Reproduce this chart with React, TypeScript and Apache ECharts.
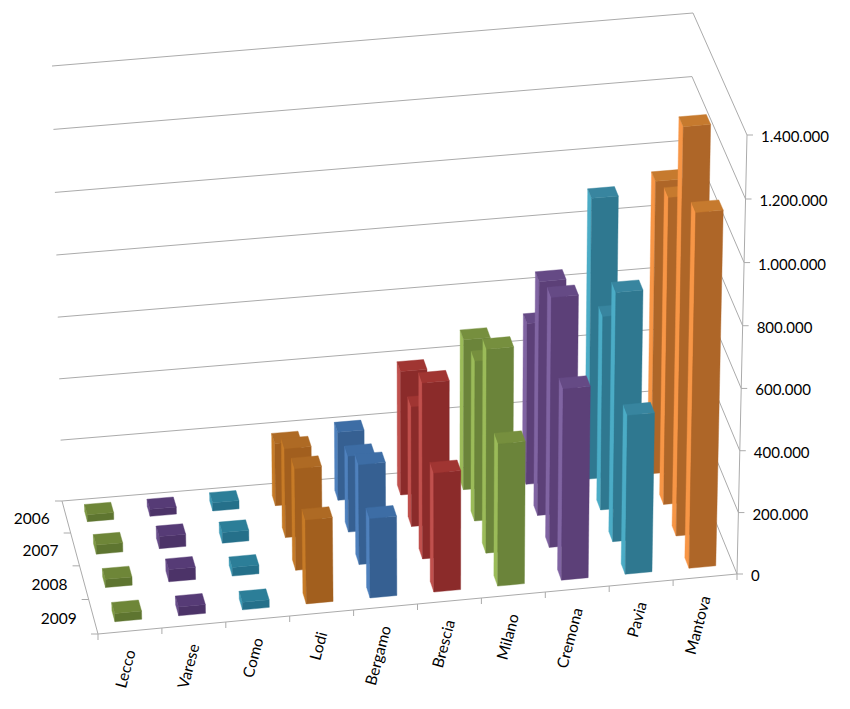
import React, { useEffect, useRef } from "react";
import * as echarts from "echarts";

const categories = ["Lecco", "Varese", "Como", "Lodi", "Bergamo", "Brescia", "Milano", "Cremona", "Pavia", "Mantova"];
const years = ["2006", "2007", "2008", "2009"];
const valueTicks = [0, 200000, 400000, 600000, 800000, 1000000, 1200000, 1400000];
const valueTickLabels = ["0", "200.000", "400.000", "600.000", "800.000", "1.000.000", "1.200.000", "1.400.000"];

const values2006 = [23000, 23000, 27000, 204000, 223000, 403000, 489000, 524000, 908000, 945000];
const values2007 = [30000, 40000, 35000, 290000, 248000, 390000, 520000, 757000, 628000, 990000];
const values2008 = [27000, 40000, 28000, 331000, 325000, 570000, 660000, 807000, 805000, 1310000];
const values2009 = [27000, 29000, 25000, 273000, 258000, 386000, 461000, 619000, 515000, 1140000];
const seriesByYear = [values2006, values2007, values2008, values2009];

const frontColors = ["#5E7530", "#4C3368", "#25708A", "#A25F1E", "#366092", "#8B2B2A", "#6B843A", "#5C4078", "#2F7890", "#AE6628"];
const sideColors = ["#7F9A44", "#6A4F8C", "#3E9AB5", "#C77B27", "#4F81BD", "#C0504D", "#9BBB59", "#8064A2", "#4BACC6", "#F79646"];
const topColors = ["#6E8638", "#563B76", "#2C7E98", "#AE6A24", "#3D6DA5", "#A03532", "#768F3E", "#654A85", "#38859F", "#C67A2E"];

const MAX_VALUE = 1400000;
const GRID_COLOR = "#ABABAB";
const FONT = "Lato";

type P = [number, number];
const BACK_LEFT_BOTTOM: P = [62, 501];
const BACK_RIGHT_BOTTOM: P = [686, 449];
const FRONT_LEFT_BOTTOM: P = [98, 634];
const FRONT_RIGHT_BOTTOM: P = [737, 574];
const BACK_LEFT_TOP: P = [52, 66];
const BACK_RIGHT_TOP: P = [693, 13];
const FRONT_LEFT_TOP: P = [86, 194];
const FRONT_RIGHT_TOP: P = [747, 135];

const lerp = (a: P, b: P, t: number): P => [a[0] + (b[0] - a[0]) * t, a[1] + (b[1] - a[1]) * t];

function project(u: number, v: number, w: number): P {
  const vv = v - 0.05 * v * (1 - v);
  const ww = w - 0.024 * w * (1 - w);
  const bottom = lerp(lerp(BACK_LEFT_BOTTOM, BACK_RIGHT_BOTTOM, u), lerp(FRONT_LEFT_BOTTOM, FRONT_RIGHT_BOTTOM, u), vv);
  const top = lerp(lerp(BACK_LEFT_TOP, BACK_RIGHT_TOP, u), lerp(FRONT_LEFT_TOP, FRONT_RIGHT_TOP, u), vv);
  return lerp(bottom, top, ww);
}

const BAR_WIDTH = 0.42;
const BAR_DEPTH = 0.32;
const BAR_SHIFT = 0.02;
const ROW_SHIFT = 0.04;

// back rows first, right-most first inside a row: the viewer stands front-left
const barData: number[][] = [];
years.forEach((_, row) => {
  for (let c = categories.length - 1; c >= 0; c--) {
    barData.push([c, seriesByYear[row][c], row]);
  }
});

function renderBar(params: any, api: any) {
  const cat = api.value(0);
  const row = api.value(2);
  const rect = params.coordSys;
  const base = api.coord([cat, 0]);
  const head = api.coord([cat, api.value(1)]);
  const uc = (base[0] - rect.x) / rect.width + BAR_SHIFT / categories.length;
  const w = (rect.y + rect.height - head[1]) / rect.height;
  const du = (BAR_WIDTH / 2) / categories.length;
  const v0 = (row + 0.5 + ROW_SHIFT - BAR_DEPTH / 2) / years.length;
  const v1 = (row + 0.5 + ROW_SHIFT + BAR_DEPTH / 2) / years.length;
  const u0 = uc - du;
  const u1 = uc + du;
  const poly = (points: P[], fill: string) => ({
    type: "polygon",
    silent: true,
    shape: { points },
    style: { fill, stroke: fill, lineWidth: 0.4 },
  });
  return {
    type: "group",
    children: [
      poly([project(u0, v0, 0), project(u0, v1, 0), project(u0, v1, w), project(u0, v0, w)], sideColors[cat]),
      poly([project(u0, v1, 0), project(u1, v1, 0), project(u1, v1, w), project(u0, v1, w)], frontColors[cat]),
      poly([project(u0, v0, w), project(u1, v0, w), project(u1, v1, w), project(u0, v1, w)], topColors[cat]),
    ],
  };
}

function renderFrame(params: any, api: any) {
  const rect = params.coordSys;
  const children: any[] = [];
  const line = (a: P, b: P) => ({
    type: "line",
    silent: true,
    shape: { x1: a[0], y1: a[1], x2: b[0], y2: b[1] },
    style: { stroke: GRID_COLOR, lineWidth: 1 },
  });
  const text = (t: string, x: number, y: number, align: string, size: number, rotation = 0) => ({
    type: "text",
    silent: true,
    x,
    y,
    rotation,
    style: { text: t, fill: "#000", font: `${size}px ${FONT}`, align, verticalAlign: "middle" },
  });
  valueTicks.forEach((tick, i) => {
    const y = api.coord([0, tick])[1];
    const w = (rect.y + rect.height - y) / rect.height;
    const back = project(0, 0, w);
    const corner = project(1, 0, w);
    const front = project(1, 1, w);
    children.push(line(back, corner), line(corner, front));
    children.push(line([front[0], front[1]], [front[0] + 6, front[1]]));
    children.push(text(valueTickLabels[i], front[0] + 14, front[1] + 1, "left", 15));
  });
  children.push(line(project(1, 1, 0), project(1, 1, 1)));
  children.push(line(project(0, 0, 0), project(0, 1, 0)));
  children.push(line(project(0, 1, 0), project(1, 1, 0)));
  years.forEach((label, row) => {
    const tick = project(0, row / years.length, 0);
    children.push(line(tick, [tick[0] - 7, tick[1]]));
    const c = project(0, (row + 0.5) / years.length, 0);
    children.push(text(label, c[0] - 16.5, c[1] + 1, "right", 15.5));
  });
  children.push(line(project(0, 1, 0), [project(0, 1, 0)[0] - 7, project(0, 1, 0)[1]]));
  categories.forEach((label, c) => {
    const x = api.coord([c, 0])[0];
    const uc = (x - rect.x) / rect.width;
    const edge = project(uc - 0.5 / categories.length, 1, 0);
    children.push(line(edge, [edge[0], edge[1] + 6]));
    const mid = project(uc, 1, 0);
    children.push(text(label, mid[0], mid[1] + 19, "right", 15.5, (75 * Math.PI) / 180));
  });
  const last = project(1, 1, 0);
  children.push(line(last, [last[0], last[1] + 6]));
  return { type: "group", children };
}

export default function App() {
  const ref = useRef<HTMLDivElement>(null);
  useEffect(() => {
    document.body.style.margin = "0";
    const chart = echarts.init(ref.current!, undefined, { renderer: "svg" });
    chart.setOption({
      animation: false,
      backgroundColor: "#fff",
      grid: { left: 0, right: 0, top: 0, bottom: 0 },
      xAxis: { type: "category", data: categories, show: false },
      yAxis: { type: "value", min: 0, max: MAX_VALUE, show: false },
      series: [
        { type: "custom", name: "frame", coordinateSystem: "cartesian2d", clip: false, silent: true, renderItem: renderFrame, data: [[0, 0]], z: 1 },
        { type: "custom", name: "bars", coordinateSystem: "cartesian2d", clip: false, silent: true, renderItem: renderBar, data: barData, encode: { x: 0, y: 1 }, z: 2 },
      ],
    });
    return () => chart.dispose();
  }, []);
  return <div ref={ref} style={{ width: 850, height: 709 }} />;
}
